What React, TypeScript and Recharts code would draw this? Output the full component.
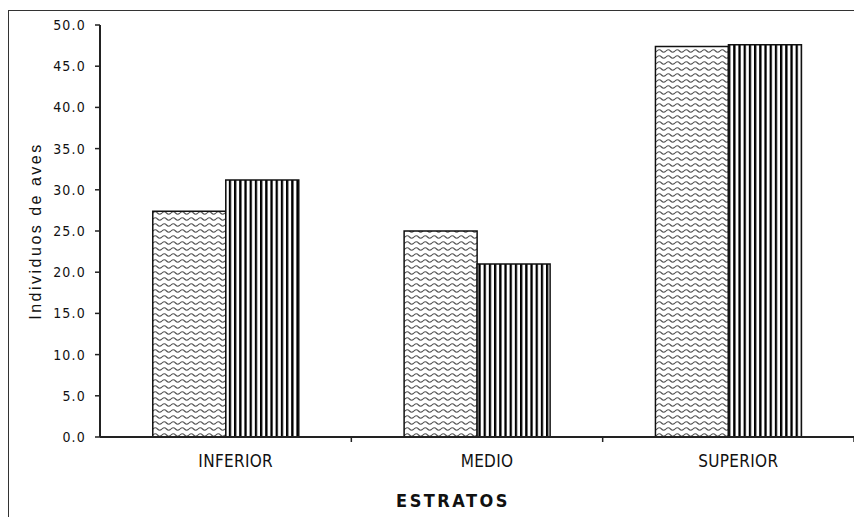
import React from 'react';
import { BarChart, Bar, XAxis, YAxis, Label } from 'recharts';

const categories = ['INFERIOR', 'MEDIO', 'SUPERIOR'];
const seriesA = [27.4, 25.0, 47.4];
const seriesB = [31.2, 21.0, 47.6];
const yTicks = [0, 5, 10, 15, 20, 25, 30, 35, 40, 45, 50];

const data = categories.map((c, i) => ({ name: c, a: seriesA[i], b: seriesB[i] }));

const NARROW = '"Liberation Sans Narrow", "DejaVu Sans Condensed", "Arial Narrow", sans-serif';

const CatTick = (props: any) => {
  const { x, y, payload } = props;
  const off = payload && typeof payload.offset === 'number' ? payload.offset : 125.7;
  return (
    <g>
      <line x1={x + off} x2={x + off} y1={y - 8} y2={y - 3} stroke="#222" strokeWidth={1.5} />
      <text x={x + 10} y={y + 22} textAnchor="middle" fontFamily={NARROW} fontSize={17} letterSpacing={0.3} fill="#111">
        {payload.value}
      </text>
    </g>
  );
};

export default function App() {
  return (
    <div style={{ position: 'absolute', left: 0, top: 0, width: 854, height: 517, overflow: 'hidden', background: '#fff' }}>
      <svg width={0} height={0} style={{ position: 'absolute' }}>
        <defs>
          <pattern id="wave" patternUnits="userSpaceOnUse" width={9} height={6}>
            <rect x={0} y={0} width={9} height={6} fill="#fff" />
            <path d="M0 3 Q2.25 0.5 4.5 3 T9 3" stroke="#555" strokeWidth={1.2} fill="none" />
          </pattern>
          <pattern id="stripes" patternUnits="userSpaceOnUse" width={5.2} height={10}>
            <rect x={0} y={0} width={5.2} height={10} fill="#fff" />
            <rect x={0} y={0} width={2.3} height={10} fill="#000" />
          </pattern>
        </defs>
      </svg>
      <div style={{ position: 'absolute', left: 8, top: 10, width: 900, height: 600, border: '1.5px solid #333', boxSizing: 'border-box' }} />
      <div style={{ position: 'absolute', left: 0, top: 0 }}>
        <BarChart width={854} height={517} data={data} margin={{ top: 25, right: 0, bottom: 50, left: 40 }} barCategoryGap="21%" barGap={0}>
          <XAxis
            dataKey="name"
            height={30}
            axisLine={{ stroke: '#222', strokeWidth: 2 }}
            tickLine={false}
            tick={<CatTick />}
            interval={0}
          >
            <Label value="ESTRATOS" position="insideBottom" offset={-40} dx={-24} style={{ fontFamily: NARROW, fontSize: 18, fontWeight: 'bold', letterSpacing: 2.5, fill: '#111' }} />
          </XAxis>
          <YAxis
            width={60}
            domain={[0, 50]}
            ticks={yTicks}
            interval={0}
            tickFormatter={(v: number) => v.toFixed(1)}
            axisLine={{ stroke: '#222', strokeWidth: 2 }}
            tickLine={{ stroke: '#222', strokeWidth: 1.5 }}
            tickSize={5}
            tickMargin={9}
            tick={{ fontFamily: NARROW, fontSize: 14, letterSpacing: 1.2, fill: '#111' }}
          >
            <Label value="Individuos de aves" angle={-90} position="insideLeft" offset={-5} style={{ fontFamily: 'Liberation Sans, Arial, sans-serif', fontSize: 16, letterSpacing: 2.5, fill: '#111', textAnchor: 'middle' }} />
          </YAxis>
          <Bar dataKey="a" fill="url(#wave)" stroke="#111" strokeWidth={1.5} isAnimationActive={false} />
          <Bar dataKey="b" fill="url(#stripes)" stroke="#111" strokeWidth={1.5} isAnimationActive={false} />
        </BarChart>
      </div>
    </div>
  );
}
